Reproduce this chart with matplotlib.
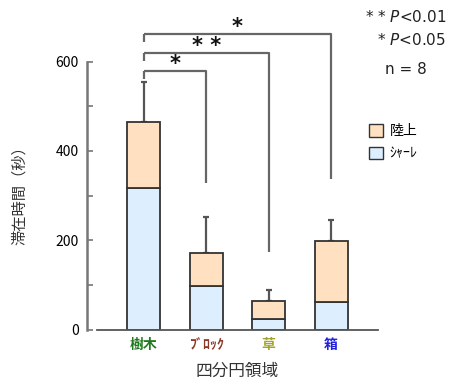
import numpy as np
import matplotlib.pyplot as plt
from matplotlib.patches import Patch

plt.rcParams['font.family'] = ['Noto Sans CJK JP', 'DejaVu Sans']

# data
categories = ['樹木', 'ﾌﾞﾛｯｸ', '草', '箱']
label_colors = ['#1f7a1f', '#8b3a2a', '#a3a32a', '#2222dd']
petri = [317, 97, 23, 62]          # ｼｬｰﾚ (bottom part)
land = [147, 74, 41, 136]          # 陸上 (upper part)
err_up = [90, 81, 24, 47]
yticks = [0, 200, 400, 600]

# significance brackets: (left index, right index, height, right end, mark)
brackets = [(0, 1, 578, 328, '*'),
            (0, 2, 619, 173, '* *'),
            (0, 3, 662, 337, '*')]

fig = plt.figure(figsize=(4.51, 3.85), dpi=100)
ax = fig.add_axes([0.215, 0.144, 0.623, 0.812])

x = np.arange(len(categories))
total = np.array(petri) + np.array(land)
ax.bar(x, petri, width=0.53, color='#ddeeff', edgecolor='#333333', linewidth=1.3, zorder=2)
ax.bar(x, land, width=0.53, bottom=petri, color='#ffe0c0', edgecolor='#333333', linewidth=1.3, zorder=2)
ax.errorbar(x, total, yerr=[np.zeros(len(x)), err_up], fmt='none', ecolor='#555555',
            elinewidth=1.6, capsize=2, capthick=1.6, zorder=1)

# brackets
for i, j, h, end, mark in brackets:
    ax.plot([x[i], x[i]], [h - 18, h], color='#666666', lw=1.6, solid_capstyle='butt')
    ax.plot([x[i], x[j], x[j]], [h, h, end], color='#666666', lw=1.6, solid_capstyle='butt')
    ax.text((x[i] + x[j]) / 2, h - 6, mark, ha='center', va='bottom', fontsize=15,
            fontweight='bold', family='DejaVu Sans', color='#111111')

ax.set_xlim(-0.75, 3.75)
ax.set_ylim(0, 700)
ax.set_yticks(yticks)
ax.set_yticklabels([str(v) for v in yticks], fontweight='bold', fontsize=10,
                   color='#333333', family='DejaVu Sans')
ax.set_yticks([100, 300, 500], minor=True)
ax.set_xticks(x)
ax.set_xticklabels(categories, fontweight='bold', fontsize=10)
for lab, c in zip(ax.get_xticklabels(), label_colors):
    lab.set_color(c)

ax.tick_params(axis='x', length=0, pad=6)
ax.tick_params(axis='y', which='both', direction='in', length=4, width=1.2, color='#777777', pad=6)
for s in ['top', 'right']:
    ax.spines[s].set_visible(False)
ax.spines['left'].set_position(('outward', 7))
ax.spines['left'].set_bounds(0, 600)
ax.spines['left'].set_color('#777777')
ax.spines['left'].set_linewidth(1.8)
ax.spines['bottom'].set_color('#555555')
ax.spines['bottom'].set_linewidth(1.3)

ax.set_ylabel('滞在時間（秒）', fontsize=11, color='#333333')
ax.yaxis.set_label_coords(-0.245, 0.44)
ax.set_xlabel('四分円領域', fontsize=12, color='#333333', labelpad=8)

# p-value notes
fig.text(0.99, 0.955, r'* * $\it{P}$<0.01', ha='right', va='center', fontsize=11,
         color='#222222', family='DejaVu Sans')
fig.text(0.99, 0.895, r'* $\it{P}$<0.05', ha='right', va='center', fontsize=11,
         color='#222222', family='DejaVu Sans')
fig.text(0.9, 0.82, 'n = 8', ha='center', va='center', fontsize=11, color='#222222',
         family='DejaVu Sans')

handles = [Patch(facecolor='#ffe0c0', edgecolor='#333333', label='陸上'),
           Patch(facecolor='#ddeeff', edgecolor='#333333', label='ｼｬｰﾚ')]
fig.legend(handles=handles, loc='upper left', bbox_to_anchor=(0.79, 0.71), frameon=False,
           fontsize=10, handlelength=1.0, handleheight=1.0, handletextpad=0.5, labelspacing=0.6)

fig.savefig('out.png', dpi=100)
